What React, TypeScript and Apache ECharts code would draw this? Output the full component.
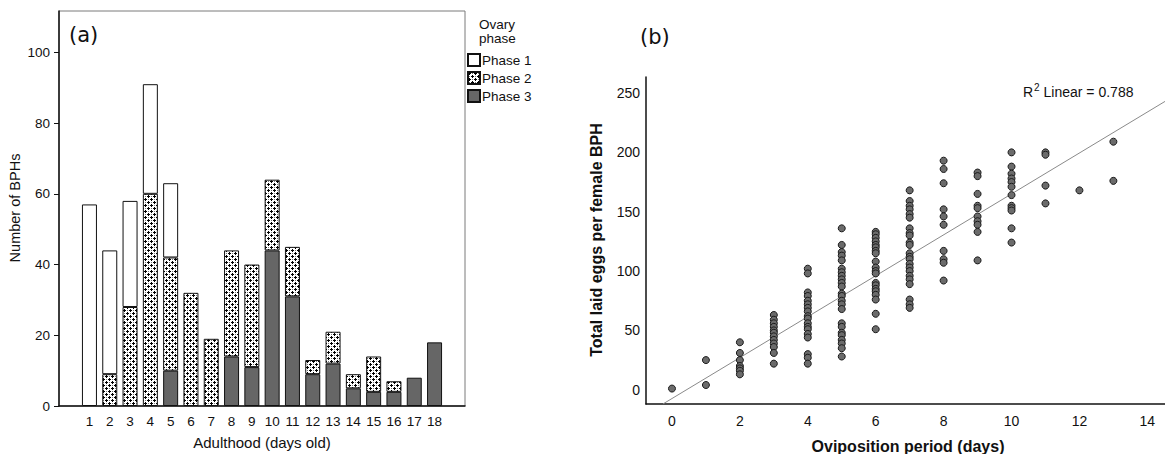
import React, { useEffect, useRef } from "react";
import * as echarts from "echarts";

// ---- Panel (a) data ----
const days = ["1","2","3","4","5","6","7","8","9","10","11","12","13","14","15","16","17","18"];
const phase1 = [57, 35, 30, 31, 21, 0, 0, 0, 0, 0, 0, 0, 0, 0, 0, 0, 0, 0];
const phase2 = [0, 9, 28, 60, 32, 32, 19, 30, 29, 20, 14, 4, 9, 4, 10, 3, 0, 0];
const phase3 = [0, 0, 0, 0, 10, 0, 0, 14, 11, 44, 31, 9, 12, 5, 4, 4, 8, 18];
const yTicksA = [0, 20, 40, 60, 80, 100];

// ---- Panel (b) data ----
const ovipositionDays = [0, 1, 2, 3, 4, 5, 6, 7, 8, 9, 10, 11, 12, 13];
const eggsByDay = [
  [1],
  [25, 4],
  [40, 31, 25, 20, 18, 16, 13],
  [63, 59, 56, 53, 50, 48, 45, 42, 39, 36, 31, 22],
  [102, 98, 82, 79, 75, 72, 69, 66, 62, 60, 56, 53, 51, 47, 44, 30, 27, 22],
  [136, 122, 116, 113, 109, 102, 99, 96, 93, 90, 87, 81, 79, 75, 72, 68, 56, 53, 48, 46, 42, 39, 35, 28],
  [133, 131, 128, 125, 122, 120, 117, 115, 108, 103, 100, 98, 90, 88, 85, 83, 80, 76, 64, 51],
  [168, 159, 155, 152, 148, 145, 136, 132, 130, 124, 122, 115, 112, 110, 106, 103, 100, 96, 93, 89, 76, 72, 69],
  [193, 186, 174, 152, 146, 139, 117, 110, 107, 92],
  [183, 180, 165, 155, 153, 146, 142, 139, 133, 109],
  [200, 188, 182, 178, 175, 171, 164, 155, 153, 151, 136, 124],
  [200, 198, 172, 157],
  [168],
  [209, 176],
];
const fitIntercept = -7.4;
const fitSlope = 17.24;
const fitXRange = [-0.266, 14.52];
const xTicksB = [0, 2, 4, 6, 8, 10, 12, 14];
const yTicksB = [0, 50, 100, 150, 200, 250];

const SANS = "'Liberation Sans', Arial, sans-serif";

function makePattern(): HTMLCanvasElement {
  const c = document.createElement("canvas");
  c.width = 6;
  c.height = 6;
  const ctx = c.getContext("2d")!;
  ctx.fillStyle = "#ffffff";
  ctx.fillRect(0, 0, 6, 6);
  ctx.fillStyle = "#777777";
  ctx.fillRect(4, 1, 1, 1);
  ctx.fillRect(1, 4, 1, 1);
  ctx.fillStyle = "#000000";
  const plus = (cx: number, cy: number) => {
    ctx.fillRect(cx - 1, cy, 3, 1);
    ctx.fillRect(cx, cy - 1, 1, 3);
  };
  plus(1, 1);
  plus(4, 4);
  return c;
}

export default function App() {
  const ref = useRef<HTMLDivElement>(null);
  useEffect(() => {
    if (!ref.current) return;
    const chart = echarts.init(ref.current, undefined, { renderer: "svg" });
    const pattern = makePattern();
    const nz = (v: number) => (v === 0 ? null : v);
    const cats = ["", ...days, ""];
    const wrap = (arr: number[]) => [null, ...arr.map(nz), null];

    const scatterData: number[][] = [];
    ovipositionDays.forEach((d, i) => {
      eggsByDay[i].forEach((v) => scatterData.push([d, v]));
    });
    const fitData = fitXRange.map((x) => [x, fitIntercept + fitSlope * x]);

    const barBase = {
      type: "bar",
      stack: "total",
      xAxisIndex: 0,
      yAxisIndex: 0,
      barWidth: 15,
    };

    chart.setOption({
      animation: false,
      textStyle: { fontFamily: SANS },
      grid: [
        { left: 59, right: 700, top: 11, bottom: 48, show: true, borderColor: "#7a7a7a", borderWidth: 1 },
        { left: 646, right: 0, top: 77, bottom: 50 },
      ],
      legend: {
        data: ["Phase 1", "Phase 2", "Phase 3"],
        orient: "vertical",
        left: 467,
        top: 53,
        padding: 0,
        itemWidth: 12,
        itemHeight: 12,
        itemGap: 4,
        icon: "rect",
        textStyle: { fontSize: 13.5, color: "#111", padding: [0, 0, 0, -3], fontFamily: SANS },
      },
      xAxis: [
        {
          type: "category",
          gridIndex: 0,
          data: cats,
          axisLine: { lineStyle: { color: "#111", width: 1.5 } },
          axisTick: {
            alignWithLabel: true,
            length: 4,
            interval: (_i: number, v: string) => v !== "",
            lineStyle: { color: "#111" },
          },
          axisLabel: { interval: 0, fontSize: 13.5, color: "#111", margin: 8 },
        },
        {
          type: "value",
          gridIndex: 1,
          min: -0.765,
          max: 14.52,
          axisLine: { onZero: false, lineStyle: { color: "#111", width: 1.5 } },
          axisTick: { show: false },
          splitLine: { show: false },
          axisLabel: { fontSize: 14, color: "#111", margin: 10, customValues: xTicksB },
        },
      ],
      yAxis: [
        {
          type: "value",
          gridIndex: 0,
          min: 0,
          max: 111.7,
          axisLine: { show: true, lineStyle: { color: "#111", width: 1.5 } },
          axisTick: { show: true, length: 5, customValues: yTicksA, lineStyle: { color: "#111" } },
          splitLine: { show: false },
          axisLabel: { fontSize: 13.5, color: "#111", margin: 9, customValues: yTicksA },
        },
        {
          type: "value",
          gridIndex: 1,
          min: -12,
          max: 263.5,
          axisLine: { show: true, onZero: false, lineStyle: { color: "#111", width: 1.5 } },
          axisTick: { show: false },
          splitLine: { show: false },
          axisLabel: { fontSize: 14, color: "#111", margin: 6, customValues: yTicksB },
        },
      ],
      series: [
        {
          ...barBase,
          name: "Phase 3",
          data: wrap(phase3),
          itemStyle: { color: "#666666", borderColor: "#111", borderWidth: 1 },
        },
        {
          ...barBase,
          name: "Phase 2",
          data: wrap(phase2),
          itemStyle: { color: { image: pattern, repeat: "repeat" }, borderColor: "#111", borderWidth: 1 },
        },
        {
          ...barBase,
          name: "Phase 1",
          data: wrap(phase1),
          itemStyle: { color: "#ffffff", borderColor: "#111", borderWidth: 1 },
        },
        {
          type: "line",
          name: "fit",
          xAxisIndex: 1,
          yAxisIndex: 1,
          data: fitData,
          showSymbol: false,
          symbol: "none",
          lineStyle: { color: "#8a8a8a", width: 1 },
          silent: true,
          z: 1,
        },
        {
          type: "scatter",
          name: "eggs",
          xAxisIndex: 1,
          yAxisIndex: 1,
          data: scatterData,
          symbolSize: 7,
          itemStyle: { color: "#6b6b6b", borderColor: "#1a1a1a", borderWidth: 1, opacity: 1 },
          z: 3,
        },
      ],
      graphic: [
        {
          type: "text", x: 69, y: 35,
          style: { text: "(a)", fontSize: 21, fontFamily: "'DejaVu Sans', Verdana, sans-serif", fill: "#111", textVerticalAlign: "middle" },
        },
        {
          type: "text", x: 640, y: 37,
          style: { text: "(b)", fontSize: 21, fontFamily: "'DejaVu Sans', Verdana, sans-serif", fill: "#111", textVerticalAlign: "middle" },
        },
        {
          type: "text", x: 479, y: 17,
          style: { text: "Ovary\nphase", fontSize: 13.5, lineHeight: 14, fontFamily: SANS, fill: "#111", textVerticalAlign: "top" },
        },
        {
          type: "text", x: 15, y: 208, rotation: Math.PI / 2,
          style: { text: "Number of BPHs", fontSize: 14.5, fontFamily: SANS, fill: "#111", textAlign: "center", textVerticalAlign: "middle" },
        },
        {
          type: "text", x: 262, y: 442,
          style: { text: "Adulthood (days old)", fontSize: 15, fontFamily: SANS, fill: "#111", textAlign: "center", textVerticalAlign: "middle" },
        },
        {
          type: "text", x: 596, y: 240, rotation: Math.PI / 2,
          style: { text: "Total laid eggs per female BPH", fontSize: 16, fontWeight: "bold", fontFamily: SANS, fill: "#111", textAlign: "center", textVerticalAlign: "middle" },
        },
        {
          type: "text", x: 908, y: 446,
          style: { text: "Oviposition period (days)", fontSize: 16, fontWeight: "bold", fontFamily: SANS, fill: "#111", textAlign: "center", textVerticalAlign: "middle" },
        },
        {
          type: "text", x: 1023, y: 92,
          style: {
            text: "{b|R}{s|2}{b| Linear = 0.788}",
            fontFamily: SANS,
            fill: "#111",
            textVerticalAlign: "middle",
            rich: {
              b: { fontSize: 14, lineHeight: 20, fontFamily: SANS, color: "#111", verticalAlign: "middle" },
              s: { fontSize: 10, lineHeight: 20, fontFamily: SANS, color: "#111", verticalAlign: "top", padding: [0, 0, 0, 1] },
            },
          },
        },
      ],
    });
    return () => chart.dispose();
  }, []);
  return <div ref={ref} style={{ width: 1165, height: 454, position: "absolute", left: 0, top: 0 }} />;
}
